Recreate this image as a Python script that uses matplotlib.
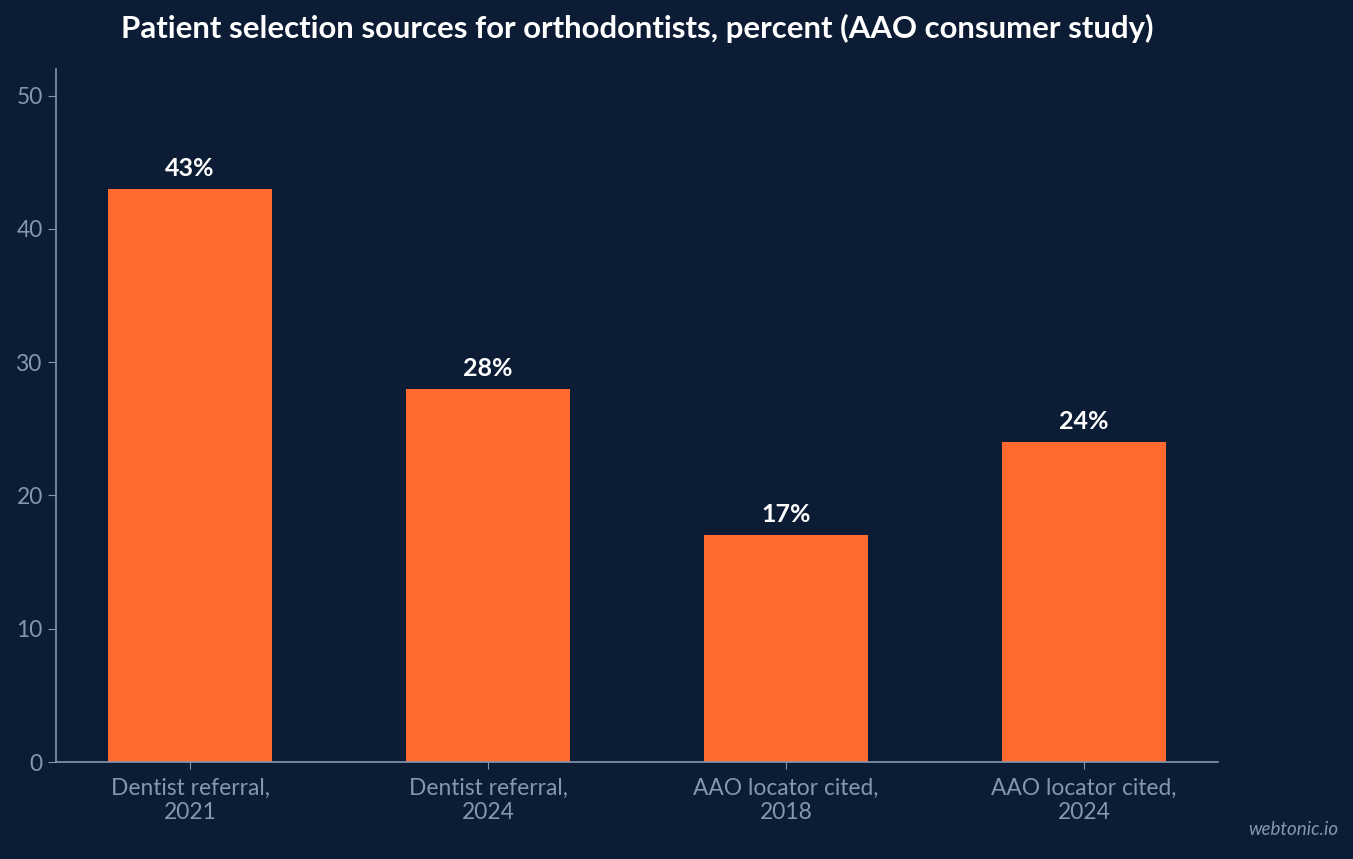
import matplotlib
matplotlib.use("Agg")
import matplotlib.pyplot as plt

categories = ["Dentist referral,\n2021", "Dentist referral,\n2024",
              "AAO locator cited,\n2018", "AAO locator cited,\n2024"]
values = [43, 28, 17, 24]
yticks = [0, 10, 20, 30, 40, 50]

BG = "#0b1c34"
BAR = "#ff6a2f"
MUTED = "#8596b0"

plt.rcParams["font.family"] = ["Lato", "DejaVu Sans"]

fig = plt.figure(figsize=(13.53, 8.59), dpi=100, facecolor=BG)
ax = fig.add_axes([0.0414, 0.1129, 0.8588, 0.8068], facecolor=BG)

x = list(range(len(categories)))
ax.bar(x, values, width=0.55, color=BAR, zorder=2)
for xi, v in zip(x, values):
    ax.annotate(f"{v}%", (xi, v), textcoords="offset points", xytext=(0, 6.5),
                ha="center", va="bottom", fontsize=18, fontweight="bold",
                color="white")

ax.set_xlim(-0.45, 3.45)
ax.set_ylim(0, 52)
ax.set_xticks(x)
ax.set_xticklabels(categories, fontsize=16.4, color=MUTED, linespacing=1.15)
ax.set_yticks(yticks)
ax.tick_params(axis="y", labelsize=16.4, labelcolor=MUTED, color=MUTED, length=6)
ax.tick_params(axis="x", color=MUTED, length=5, pad=6.5)
for s in ("top", "right"):
    ax.spines[s].set_visible(False)
for s in ("left", "bottom"):
    ax.spines[s].set_color(MUTED)
    ax.spines[s].set_linewidth(1.2)

ax.set_title("Patient selection sources for orthodontists, percent (AAO consumer study)",
             fontsize=22.4, fontweight="bold", color="white", pad=22)
fig.text(0.989, 0.025, "webtonic.io", ha="right", va="bottom", fontsize=13.5,
         style="italic", color=MUTED)

fig.savefig("out.png", dpi=100, facecolor=BG)
